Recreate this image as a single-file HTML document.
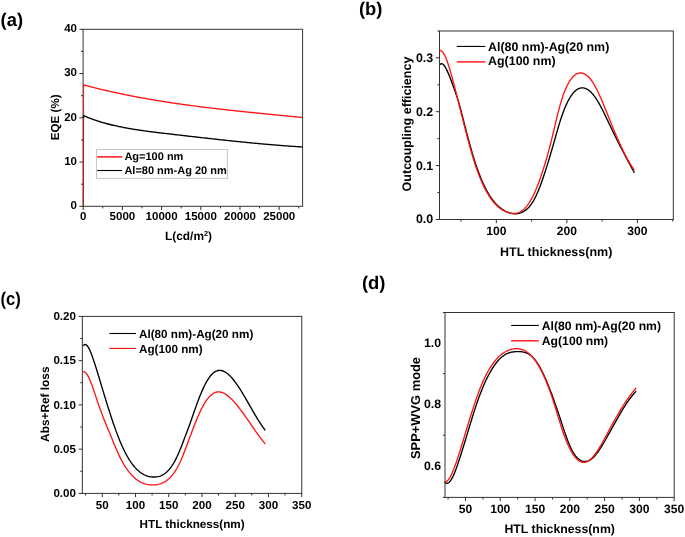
<!DOCTYPE html>
<html lang="en">
<head>
<meta charset="utf-8">
<title>Figure: EQE, outcoupling efficiency, Abs+Ref loss and SPP+WVG mode</title>
<style>
  html, body { margin: 0; padding: 0; background: #ffffff; }
  body { width: 685px; height: 537px; overflow: hidden; font-family: "Liberation Sans", sans-serif; }
  svg { display: block; will-change: transform; }
  svg text { font-family: "Liberation Sans", sans-serif; font-weight: 700; fill: #000000; }
</style>
</head>
<body>
<svg width="685" height="537" viewBox="0 0 685 537" shape-rendering="geometricPrecision" text-rendering="geometricPrecision">
<rect x="0" y="0" width="685" height="537" fill="#ffffff"/>
<g id="plots">
<line x1="82.60" y1="29.30" x2="303.10" y2="29.30" stroke="#333333" stroke-width="1"/>
<line x1="82.60" y1="206.30" x2="303.10" y2="206.30" stroke="#333333" stroke-width="1"/>
<line x1="83.10" y1="29.30" x2="83.10" y2="206.30" stroke="#333333" stroke-width="1"/>
<line x1="302.60" y1="29.30" x2="302.60" y2="206.30" stroke="#333333" stroke-width="1"/>
<path d="M83.45,206.3 L83.55,116.6" fill="none" stroke="#000000" stroke-width="1.0" opacity="0.8"/>
<path d="M83.45,206.3 L83.55,85.6" fill="none" stroke="#e81818" stroke-width="1.15" opacity="0.78"/>
<path d="M83.5,117.6 L83.6,115.9 L84.10,115.81 L85.10,116.25 L86.10,116.68 L87.10,117.10 L88.10,117.51 L89.10,117.91 L90.10,118.30 L91.10,118.69 L92.10,119.06 L93.10,119.43 L94.10,119.78 L95.10,120.13 L96.10,120.47 L97.10,120.80 L98.10,121.13 L99.10,121.45 L100.10,121.76 L101.10,122.06 L102.10,122.36 L103.10,122.64 L104.10,122.93 L105.10,123.21 L106.10,123.48 L107.10,123.74 L108.10,124.00 L109.10,124.26 L110.10,124.51 L111.10,124.75 L112.10,124.99 L113.10,125.22 L114.10,125.45 L115.10,125.68 L116.10,125.90 L117.10,126.12 L118.10,126.34 L119.10,126.55 L120.10,126.75 L121.10,126.96 L122.10,127.16 L123.10,127.35 L124.10,127.55 L125.10,127.74 L126.10,127.92 L127.10,128.11 L128.10,128.29 L129.10,128.46 L130.10,128.64 L131.10,128.81 L132.10,128.98 L133.10,129.14 L134.10,129.31 L135.10,129.47 L136.10,129.63 L137.10,129.78 L138.10,129.93 L139.10,130.09 L140.10,130.23 L141.10,130.38 L142.10,130.53 L143.10,130.67 L144.10,130.81 L145.10,130.95 L146.10,131.08 L147.10,131.22 L148.10,131.35 L149.10,131.49 L150.10,131.62 L151.10,131.74 L152.10,131.87 L153.10,132.00 L154.10,132.12 L155.10,132.25 L156.10,132.37 L157.10,132.49 L158.10,132.61 L159.10,132.73 L160.10,132.85 L161.10,132.97 L162.10,133.09 L163.10,133.21 L164.10,133.33 L165.10,133.44 L166.10,133.56 L167.10,133.67 L168.10,133.79 L169.10,133.91 L170.10,134.02 L171.10,134.14 L172.10,134.25 L173.10,134.37 L174.10,134.49 L175.10,134.60 L176.10,134.72 L177.10,134.83 L178.10,134.95 L179.10,135.06 L180.10,135.18 L181.10,135.29 L182.10,135.41 L183.10,135.53 L184.10,135.64 L185.10,135.76 L186.10,135.87 L187.10,135.99 L188.10,136.10 L189.10,136.22 L190.10,136.33 L191.10,136.45 L192.10,136.56 L193.10,136.67 L194.10,136.79 L195.10,136.90 L196.10,137.02 L197.10,137.13 L198.10,137.24 L199.10,137.36 L200.10,137.47 L201.10,137.58 L202.10,137.70 L203.10,137.81 L204.10,137.92 L205.10,138.04 L206.10,138.15 L207.10,138.26 L208.10,138.37 L209.10,138.48 L210.10,138.59 L211.10,138.70 L212.10,138.82 L213.10,138.93 L214.10,139.04 L215.10,139.15 L216.10,139.26 L217.10,139.37 L218.10,139.47 L219.10,139.58 L220.10,139.69 L221.10,139.80 L222.10,139.91 L223.10,140.02 L224.10,140.12 L225.10,140.23 L226.10,140.34 L227.10,140.44 L228.10,140.55 L229.10,140.65 L230.10,140.76 L231.10,140.86 L232.10,140.97 L233.10,141.07 L234.10,141.18 L235.10,141.28 L236.10,141.38 L237.10,141.49 L238.10,141.59 L239.10,141.69 L240.10,141.79 L241.10,141.89 L242.10,141.99 L243.10,142.09 L244.10,142.19 L245.10,142.29 L246.10,142.39 L247.10,142.49 L248.10,142.58 L249.10,142.68 L250.10,142.78 L251.10,142.87 L252.10,142.97 L253.10,143.06 L254.10,143.16 L255.10,143.25 L256.10,143.35 L257.10,143.44 L258.10,143.53 L259.10,143.62 L260.10,143.72 L261.10,143.81 L262.10,143.90 L263.10,143.99 L264.10,144.08 L265.10,144.16 L266.10,144.25 L267.10,144.34 L268.10,144.43 L269.10,144.51 L270.10,144.60 L271.10,144.68 L272.10,144.77 L273.10,144.85 L274.10,144.93 L275.10,145.01 L276.10,145.10 L277.10,145.18 L278.10,145.26 L279.10,145.34 L280.10,145.42 L281.10,145.49 L282.10,145.57 L283.10,145.65 L284.10,145.72 L285.10,145.80 L286.10,145.87 L287.10,145.95 L288.10,146.02 L289.10,146.09 L290.10,146.17 L291.10,146.24 L292.10,146.31 L293.10,146.38 L294.10,146.44 L295.10,146.51 L296.10,146.58 L297.10,146.65 L298.10,146.71 L299.10,146.78 L300.10,146.84 L301.10,146.90 L302.10,146.96 L302.40,146.98" fill="none" stroke="#000000" stroke-width="1.35" stroke-linejoin="miter"/>
<path d="M83.5,86.6 L83.6,85.1 L84.10,85.01 L85.10,85.27 L86.10,85.54 L87.10,85.80 L88.10,86.07 L89.10,86.33 L90.10,86.59 L91.10,86.84 L92.10,87.10 L93.10,87.35 L94.10,87.60 L95.10,87.85 L96.10,88.10 L97.10,88.35 L98.10,88.60 L99.10,88.84 L100.10,89.08 L101.10,89.32 L102.10,89.56 L103.10,89.80 L104.10,90.04 L105.10,90.27 L106.10,90.50 L107.10,90.73 L108.10,90.96 L109.10,91.19 L110.10,91.42 L111.10,91.64 L112.10,91.87 L113.10,92.09 L114.10,92.31 L115.10,92.53 L116.10,92.75 L117.10,92.96 L118.10,93.18 L119.10,93.39 L120.10,93.60 L121.10,93.81 L122.10,94.02 L123.10,94.23 L124.10,94.44 L125.10,94.64 L126.10,94.84 L127.10,95.05 L128.10,95.25 L129.10,95.45 L130.10,95.64 L131.10,95.84 L132.10,96.04 L133.10,96.23 L134.10,96.42 L135.10,96.61 L136.10,96.80 L137.10,96.99 L138.10,97.18 L139.10,97.37 L140.10,97.55 L141.10,97.74 L142.10,97.92 L143.10,98.10 L144.10,98.28 L145.10,98.46 L146.10,98.64 L147.10,98.81 L148.10,98.99 L149.10,99.16 L150.10,99.34 L151.10,99.51 L152.10,99.68 L153.10,99.85 L154.10,100.02 L155.10,100.18 L156.10,100.35 L157.10,100.52 L158.10,100.68 L159.10,100.84 L160.10,101.01 L161.10,101.17 L162.10,101.33 L163.10,101.48 L164.10,101.64 L165.10,101.80 L166.10,101.96 L167.10,102.11 L168.10,102.26 L169.10,102.42 L170.10,102.57 L171.10,102.72 L172.10,102.87 L173.10,103.02 L174.10,103.17 L175.10,103.31 L176.10,103.46 L177.10,103.60 L178.10,103.75 L179.10,103.89 L180.10,104.03 L181.10,104.18 L182.10,104.32 L183.10,104.46 L184.10,104.60 L185.10,104.73 L186.10,104.87 L187.10,105.01 L188.10,105.14 L189.10,105.28 L190.10,105.41 L191.10,105.55 L192.10,105.68 L193.10,105.81 L194.10,105.94 L195.10,106.07 L196.10,106.20 L197.10,106.33 L198.10,106.46 L199.10,106.58 L200.10,106.71 L201.10,106.84 L202.10,106.96 L203.10,107.09 L204.10,107.21 L205.10,107.33 L206.10,107.46 L207.10,107.58 L208.10,107.70 L209.10,107.82 L210.10,107.94 L211.10,108.06 L212.10,108.18 L213.10,108.29 L214.10,108.41 L215.10,108.53 L216.10,108.65 L217.10,108.76 L218.10,108.88 L219.10,108.99 L220.10,109.10 L221.10,109.22 L222.10,109.33 L223.10,109.44 L224.10,109.56 L225.10,109.67 L226.10,109.78 L227.10,109.89 L228.10,110.00 L229.10,110.11 L230.10,110.22 L231.10,110.33 L232.10,110.44 L233.10,110.54 L234.10,110.65 L235.10,110.76 L236.10,110.86 L237.10,110.97 L238.10,111.08 L239.10,111.18 L240.10,111.29 L241.10,111.39 L242.10,111.50 L243.10,111.60 L244.10,111.71 L245.10,111.81 L246.10,111.91 L247.10,112.02 L248.10,112.12 L249.10,112.22 L250.10,112.32 L251.10,112.42 L252.10,112.53 L253.10,112.63 L254.10,112.73 L255.10,112.83 L256.10,112.93 L257.10,113.03 L258.10,113.13 L259.10,113.23 L260.10,113.33 L261.10,113.43 L262.10,113.53 L263.10,113.63 L264.10,113.73 L265.10,113.83 L266.10,113.93 L267.10,114.02 L268.10,114.12 L269.10,114.22 L270.10,114.32 L271.10,114.42 L272.10,114.52 L273.10,114.62 L274.10,114.71 L275.10,114.81 L276.10,114.91 L277.10,115.01 L278.10,115.11 L279.10,115.20 L280.10,115.30 L281.10,115.40 L282.10,115.50 L283.10,115.60 L284.10,115.69 L285.10,115.79 L286.10,115.89 L287.10,115.99 L288.10,116.09 L289.10,116.19 L290.10,116.28 L291.10,116.38 L292.10,116.48 L293.10,116.58 L294.10,116.68 L295.10,116.78 L296.10,116.88 L297.10,116.98 L298.10,117.07 L299.10,117.17 L300.10,117.27 L301.10,117.37 L302.10,117.47 L302.40,117.50" fill="none" stroke="#ff1414" stroke-width="1.35" stroke-linejoin="miter"/>
<line x1="83.20" y1="206.30" x2="83.20" y2="210.00" stroke="#333333" stroke-width="1"/>
<line x1="122.40" y1="206.30" x2="122.40" y2="210.00" stroke="#333333" stroke-width="1"/>
<line x1="161.60" y1="206.30" x2="161.60" y2="210.00" stroke="#333333" stroke-width="1"/>
<line x1="200.80" y1="206.30" x2="200.80" y2="210.00" stroke="#333333" stroke-width="1"/>
<line x1="240.00" y1="206.30" x2="240.00" y2="210.00" stroke="#333333" stroke-width="1"/>
<line x1="279.20" y1="206.30" x2="279.20" y2="210.00" stroke="#333333" stroke-width="1"/>
<line x1="102.80" y1="206.30" x2="102.80" y2="208.40" stroke="#333333" stroke-width="1"/>
<line x1="142.00" y1="206.30" x2="142.00" y2="208.40" stroke="#333333" stroke-width="1"/>
<line x1="181.20" y1="206.30" x2="181.20" y2="208.40" stroke="#333333" stroke-width="1"/>
<line x1="220.40" y1="206.30" x2="220.40" y2="208.40" stroke="#333333" stroke-width="1"/>
<line x1="259.60" y1="206.30" x2="259.60" y2="208.40" stroke="#333333" stroke-width="1"/>
<line x1="298.80" y1="206.30" x2="298.80" y2="208.40" stroke="#333333" stroke-width="1"/>
<line x1="79.40" y1="206.30" x2="83.10" y2="206.30" stroke="#333333" stroke-width="1"/>
<line x1="79.40" y1="162.05" x2="83.10" y2="162.05" stroke="#333333" stroke-width="1"/>
<line x1="79.40" y1="117.80" x2="83.10" y2="117.80" stroke="#333333" stroke-width="1"/>
<line x1="79.40" y1="73.55" x2="83.10" y2="73.55" stroke="#333333" stroke-width="1"/>
<line x1="79.40" y1="29.30" x2="83.10" y2="29.30" stroke="#333333" stroke-width="1"/>
<line x1="81.00" y1="184.18" x2="83.10" y2="184.18" stroke="#333333" stroke-width="1"/>
<line x1="81.00" y1="139.93" x2="83.10" y2="139.93" stroke="#333333" stroke-width="1"/>
<line x1="81.00" y1="95.68" x2="83.10" y2="95.68" stroke="#333333" stroke-width="1"/>
<line x1="81.00" y1="51.43" x2="83.10" y2="51.43" stroke="#333333" stroke-width="1"/>
<rect x="96.5" y="149.5" width="130.9" height="28.9" fill="#ffffff" stroke="#c6c6c6" stroke-width="1"/>
<line x1="97.20" y1="156.90" x2="122.20" y2="156.90" stroke="#ff1414" stroke-width="1.5"/>
<line x1="97.20" y1="170.50" x2="122.20" y2="170.50" stroke="#000000" stroke-width="1.1"/>
<path d="M439.30,65.19 L440.30,64.08 L441.30,63.65 L442.30,63.83 L443.30,64.54 L444.30,65.70 L445.30,67.23 L446.30,69.06 L447.30,71.12 L448.30,73.38 L449.30,75.79 L450.30,78.33 L451.30,80.97 L452.30,83.67 L453.30,86.40 L454.30,89.14 L455.30,91.90 L456.30,94.75 L457.30,97.74 L458.30,100.92 L459.30,104.35 L460.30,108.00 L461.30,111.82 L462.30,115.73 L463.30,119.69 L464.30,123.62 L465.30,127.52 L466.30,131.38 L467.30,135.20 L468.30,138.95 L469.30,142.64 L470.30,146.25 L471.30,149.78 L472.30,153.22 L473.30,156.57 L474.30,159.80 L475.30,162.93 L476.30,165.93 L477.30,168.81 L478.30,171.58 L479.30,174.23 L480.30,176.77 L481.30,179.21 L482.30,181.53 L483.30,183.75 L484.30,185.87 L485.30,187.89 L486.30,189.81 L487.30,191.64 L488.30,193.37 L489.30,195.02 L490.30,196.57 L491.30,198.04 L492.30,199.43 L493.30,200.74 L494.30,201.97 L495.30,203.13 L496.30,204.21 L497.30,205.22 L498.30,206.16 L499.30,207.04 L500.30,207.85 L501.30,208.60 L502.30,209.30 L503.30,209.93 L504.30,210.52 L505.30,211.05 L506.30,211.53 L507.30,211.97 L508.30,212.36 L509.30,212.71 L510.30,213.01 L511.30,213.26 L512.30,213.47 L513.30,213.62 L514.30,213.71 L515.30,213.75 L516.30,213.72 L517.30,213.63 L518.30,213.48 L519.30,213.26 L520.30,212.97 L521.30,212.61 L522.30,212.17 L523.30,211.65 L524.30,211.05 L525.30,210.37 L526.30,209.60 L527.30,208.74 L528.30,207.79 L529.30,206.71 L530.30,205.52 L531.30,204.19 L532.30,202.72 L533.30,201.10 L534.30,199.31 L535.30,197.38 L536.30,195.30 L537.30,193.07 L538.30,190.72 L539.30,188.24 L540.30,185.65 L541.30,182.95 L542.30,180.15 L543.30,177.25 L544.30,174.27 L545.30,171.21 L546.30,168.09 L547.30,164.90 L548.30,161.65 L549.30,158.35 L550.30,155.01 L551.30,151.63 L552.30,148.20 L553.30,144.73 L554.30,141.23 L555.30,137.70 L556.30,134.16 L557.30,130.65 L558.30,127.21 L559.30,123.86 L560.30,120.63 L561.30,117.56 L562.30,114.66 L563.30,111.92 L564.30,109.33 L565.30,106.91 L566.30,104.63 L567.30,102.52 L568.30,100.55 L569.30,98.73 L570.30,97.07 L571.30,95.54 L572.30,94.16 L573.30,92.92 L574.30,91.82 L575.30,90.86 L576.30,90.03 L577.30,89.34 L578.30,88.78 L579.30,88.35 L580.30,88.04 L581.30,87.86 L582.30,87.80 L583.30,87.87 L584.30,88.05 L585.30,88.35 L586.30,88.77 L587.30,89.30 L588.30,89.94 L589.30,90.70 L590.30,91.56 L591.30,92.53 L592.30,93.60 L593.30,94.78 L594.30,96.06 L595.30,97.44 L596.30,98.92 L597.30,100.49 L598.30,102.15 L599.30,103.89 L600.30,105.71 L601.30,107.58 L602.30,109.52 L603.30,111.50 L604.30,113.53 L605.30,115.59 L606.30,117.68 L607.30,119.78 L608.30,121.89 L609.30,124.01 L610.30,126.12 L611.30,128.21 L612.30,130.29 L613.30,132.36 L614.30,134.40 L615.30,136.43 L616.30,138.45 L617.30,140.45 L618.30,142.43 L619.30,144.40 L620.30,146.36 L621.30,148.31 L622.30,150.24 L623.30,152.16 L624.30,154.06 L625.30,155.96 L626.30,157.85 L627.30,159.72 L628.30,161.59 L629.30,163.44 L630.30,165.29 L631.30,167.13 L632.30,168.96 L633.30,170.78 L634.30,172.60 L634.40,172.78" fill="none" stroke="#000000" stroke-width="1.35" stroke-linejoin="round" stroke-linecap="butt"/>
<path d="M439.30,50.52 L440.30,50.41 L441.30,50.78 L442.30,51.63 L443.30,52.89 L444.30,54.56 L445.30,56.59 L446.30,58.95 L447.30,61.61 L448.30,64.54 L449.30,67.69 L450.30,71.05 L451.30,74.57 L452.30,78.22 L453.30,81.98 L454.30,85.81 L455.30,89.69 L456.30,93.61 L457.30,97.56 L458.30,101.55 L459.30,105.54 L460.30,109.55 L461.30,113.56 L462.30,117.56 L463.30,121.54 L464.30,125.49 L465.30,129.41 L466.30,133.29 L467.30,137.11 L468.30,140.87 L469.30,144.57 L470.30,148.18 L471.30,151.71 L472.30,155.14 L473.30,158.47 L474.30,161.68 L475.30,164.77 L476.30,167.74 L477.30,170.59 L478.30,173.32 L479.30,175.93 L480.30,178.43 L481.30,180.82 L482.30,183.11 L483.30,185.28 L484.30,187.36 L485.30,189.33 L486.30,191.20 L487.30,192.98 L488.30,194.67 L489.30,196.27 L490.30,197.77 L491.30,199.19 L492.30,200.53 L493.30,201.79 L494.30,202.97 L495.30,204.07 L496.30,205.10 L497.30,206.05 L498.30,206.94 L499.30,207.77 L500.30,208.53 L501.30,209.22 L502.30,209.86 L503.30,210.45 L504.30,210.98 L505.30,211.45 L506.30,211.88 L507.30,212.27 L508.30,212.60 L509.30,212.89 L510.30,213.13 L511.30,213.31 L512.30,213.43 L513.30,213.48 L514.30,213.47 L515.30,213.39 L516.30,213.23 L517.30,212.99 L518.30,212.66 L519.30,212.26 L520.30,211.76 L521.30,211.16 L522.30,210.47 L523.30,209.68 L524.30,208.78 L525.30,207.77 L526.30,206.64 L527.30,205.40 L528.30,204.04 L529.30,202.56 L530.30,200.94 L531.30,199.20 L532.30,197.33 L533.30,195.34 L534.30,193.23 L535.30,191.01 L536.30,188.66 L537.30,186.21 L538.30,183.64 L539.30,180.97 L540.30,178.19 L541.30,175.30 L542.30,172.31 L543.30,169.23 L544.30,166.05 L545.30,162.77 L546.30,159.40 L547.30,155.91 L548.30,152.32 L549.30,148.61 L550.30,144.77 L551.30,140.80 L552.30,136.70 L553.30,132.53 L554.30,128.32 L555.30,124.10 L556.30,119.93 L557.30,115.85 L558.30,111.88 L559.30,108.06 L560.30,104.42 L561.30,100.98 L562.30,97.78 L563.30,94.83 L564.30,92.12 L565.30,89.65 L566.30,87.39 L567.30,85.33 L568.30,83.45 L569.30,81.74 L570.30,80.19 L571.30,78.80 L572.30,77.56 L573.30,76.48 L574.30,75.55 L575.30,74.77 L576.30,74.13 L577.30,73.63 L578.30,73.28 L579.30,73.05 L580.30,72.96 L581.30,73.00 L582.30,73.16 L583.30,73.45 L584.30,73.87 L585.30,74.41 L586.30,75.07 L587.30,75.86 L588.30,76.78 L589.30,77.81 L590.30,78.97 L591.30,80.26 L592.30,81.66 L593.30,83.18 L594.30,84.83 L595.30,86.60 L596.30,88.47 L597.30,90.45 L598.30,92.52 L599.30,94.68 L600.30,96.91 L601.30,99.21 L602.30,101.57 L603.30,103.97 L604.30,106.41 L605.30,108.88 L606.30,111.36 L607.30,113.86 L608.30,116.36 L609.30,118.85 L610.30,121.33 L611.30,123.79 L612.30,126.23 L613.30,128.65 L614.30,131.05 L615.30,133.41 L616.30,135.75 L617.30,138.06 L618.30,140.33 L619.30,142.57 L620.30,144.77 L621.30,146.92 L622.30,149.03 L623.30,151.10 L624.30,153.12 L625.30,155.08 L626.30,157.00 L627.30,158.85 L628.30,160.65 L629.30,162.39 L630.30,164.06 L631.30,165.67 L632.30,167.21 L633.30,168.68 L634.30,170.07 L634.40,170.21" fill="none" stroke="#ff1414" stroke-width="1.35" stroke-linejoin="round" stroke-linecap="butt"/>
<line x1="439.00" y1="31.00" x2="673.80" y2="31.00" stroke="#333333" stroke-width="1"/>
<line x1="439.00" y1="219.50" x2="673.80" y2="219.50" stroke="#333333" stroke-width="1"/>
<line x1="439.50" y1="31.00" x2="439.50" y2="219.50" stroke="#333333" stroke-width="1"/>
<line x1="673.30" y1="31.00" x2="673.30" y2="219.50" stroke="#333333" stroke-width="1"/>
<line x1="496.30" y1="219.50" x2="496.30" y2="223.20" stroke="#333333" stroke-width="1"/>
<line x1="566.90" y1="219.50" x2="566.90" y2="223.20" stroke="#333333" stroke-width="1"/>
<line x1="637.40" y1="219.50" x2="637.40" y2="223.20" stroke="#333333" stroke-width="1"/>
<line x1="461.00" y1="219.50" x2="461.00" y2="221.60" stroke="#333333" stroke-width="1"/>
<line x1="531.60" y1="219.50" x2="531.60" y2="221.60" stroke="#333333" stroke-width="1"/>
<line x1="602.10" y1="219.50" x2="602.10" y2="221.60" stroke="#333333" stroke-width="1"/>
<line x1="672.70" y1="219.50" x2="672.70" y2="221.60" stroke="#333333" stroke-width="1"/>
<line x1="435.80" y1="219.50" x2="439.50" y2="219.50" stroke="#333333" stroke-width="1"/>
<line x1="435.80" y1="165.60" x2="439.50" y2="165.60" stroke="#333333" stroke-width="1"/>
<line x1="435.80" y1="111.70" x2="439.50" y2="111.70" stroke="#333333" stroke-width="1"/>
<line x1="435.80" y1="57.80" x2="439.50" y2="57.80" stroke="#333333" stroke-width="1"/>
<line x1="437.40" y1="192.50" x2="439.50" y2="192.50" stroke="#333333" stroke-width="1"/>
<line x1="437.40" y1="138.60" x2="439.50" y2="138.60" stroke="#333333" stroke-width="1"/>
<line x1="437.40" y1="84.80" x2="439.50" y2="84.80" stroke="#333333" stroke-width="1"/>
<line x1="437.40" y1="31.00" x2="439.50" y2="31.00" stroke="#333333" stroke-width="1"/>
<line x1="456.70" y1="46.45" x2="485.30" y2="46.45" stroke="#000000" stroke-width="1.1"/>
<line x1="456.70" y1="61.90" x2="485.30" y2="61.90" stroke="#ff1414" stroke-width="1.45"/>
<path d="M83.20,345.63 L84.20,344.71 L85.20,344.46 L86.20,344.82 L87.20,345.74 L88.20,347.13 L89.20,348.95 L90.20,351.12 L91.20,353.58 L92.20,356.27 L93.20,359.13 L94.20,362.09 L95.20,365.15 L96.20,368.29 L97.20,371.50 L98.20,374.76 L99.20,378.07 L100.20,381.39 L101.20,384.73 L102.20,388.07 L103.20,391.40 L104.20,394.71 L105.20,397.99 L106.20,401.24 L107.20,404.47 L108.20,407.66 L109.20,410.80 L110.20,413.91 L111.20,416.96 L112.20,419.97 L113.20,422.92 L114.20,425.80 L115.20,428.63 L116.20,431.39 L117.20,434.07 L118.20,436.68 L119.20,439.21 L120.20,441.66 L121.20,444.02 L122.20,446.28 L123.20,448.46 L124.20,450.53 L125.20,452.52 L126.20,454.41 L127.20,456.21 L128.20,457.93 L129.20,459.56 L130.20,461.10 L131.20,462.56 L132.20,463.94 L133.20,465.24 L134.20,466.46 L135.20,467.60 L136.20,468.67 L137.20,469.67 L138.20,470.60 L139.20,471.45 L140.20,472.24 L141.20,472.96 L142.20,473.62 L143.20,474.21 L144.20,474.74 L145.20,475.21 L146.20,475.63 L147.20,475.99 L148.20,476.29 L149.20,476.54 L150.20,476.73 L151.20,476.88 L152.20,476.98 L153.20,477.03 L154.20,477.04 L155.20,477.01 L156.20,476.92 L157.20,476.79 L158.20,476.60 L159.20,476.35 L160.20,476.03 L161.20,475.65 L162.20,475.19 L163.20,474.65 L164.20,474.03 L165.20,473.31 L166.20,472.51 L167.20,471.60 L168.20,470.60 L169.20,469.49 L170.20,468.26 L171.20,466.92 L172.20,465.45 L173.20,463.87 L174.20,462.16 L175.20,460.33 L176.20,458.38 L177.20,456.32 L178.20,454.13 L179.20,451.83 L180.20,449.42 L181.20,446.90 L182.20,444.30 L183.20,441.67 L184.20,439.02 L185.20,436.38 L186.20,433.77 L187.20,431.15 L188.20,428.50 L189.20,425.80 L190.20,423.03 L191.20,420.20 L192.20,417.33 L193.20,414.44 L194.20,411.55 L195.20,408.68 L196.20,405.86 L197.20,403.11 L198.20,400.44 L199.20,397.84 L200.20,395.34 L201.20,392.92 L202.20,390.61 L203.20,388.39 L204.20,386.29 L205.20,384.30 L206.20,382.42 L207.20,380.67 L208.20,379.05 L209.20,377.56 L210.20,376.21 L211.20,375.00 L212.20,373.94 L213.20,373.03 L214.20,372.26 L215.20,371.63 L216.20,371.13 L217.20,370.77 L218.20,370.53 L219.20,370.41 L220.20,370.41 L221.20,370.53 L222.20,370.76 L223.20,371.09 L224.20,371.53 L225.20,372.07 L226.20,372.70 L227.20,373.43 L228.20,374.24 L229.20,375.14 L230.20,376.12 L231.20,377.17 L232.20,378.29 L233.20,379.48 L234.20,380.74 L235.20,382.06 L236.20,383.43 L237.20,384.86 L238.20,386.33 L239.20,387.85 L240.20,389.41 L241.20,391.01 L242.20,392.64 L243.20,394.29 L244.20,395.98 L245.20,397.68 L246.20,399.40 L247.20,401.14 L248.20,402.88 L249.20,404.64 L250.20,406.39 L251.20,408.14 L252.20,409.88 L253.20,411.62 L254.20,413.34 L255.20,415.04 L256.20,416.72 L257.20,418.37 L258.20,420.00 L259.20,421.59 L260.20,423.14 L261.20,424.66 L262.20,426.12 L263.20,427.54 L264.20,428.91 L265.20,430.22 L265.30,430.34" fill="none" stroke="#000000" stroke-width="1.35" stroke-linejoin="round" stroke-linecap="butt"/>
<path d="M83.20,371.73 L84.20,371.82 L85.20,372.37 L86.20,373.35 L87.20,374.72 L88.20,376.42 L89.20,378.43 L90.20,380.71 L91.20,383.20 L92.20,385.88 L93.20,388.70 L94.20,391.63 L95.20,394.62 L96.20,397.63 L97.20,400.63 L98.20,403.57 L99.20,406.43 L100.20,409.23 L101.20,411.96 L102.20,414.63 L103.20,417.25 L104.20,419.81 L105.20,422.33 L106.20,424.81 L107.20,427.25 L108.20,429.66 L109.20,432.06 L110.20,434.46 L111.20,436.87 L112.20,439.31 L113.20,441.75 L114.20,444.19 L115.20,446.60 L116.20,448.97 L117.20,451.27 L118.20,453.49 L119.20,455.61 L120.20,457.64 L121.20,459.59 L122.20,461.44 L123.20,463.21 L124.20,464.90 L125.20,466.50 L126.20,468.03 L127.20,469.47 L128.20,470.84 L129.20,472.13 L130.20,473.35 L131.20,474.50 L132.20,475.57 L133.20,476.58 L134.20,477.52 L135.20,478.39 L136.20,479.21 L137.20,479.95 L138.20,480.64 L139.20,481.28 L140.20,481.85 L141.20,482.37 L142.20,482.84 L143.20,483.25 L144.20,483.62 L145.20,483.93 L146.20,484.20 L147.20,484.43 L148.20,484.61 L149.20,484.75 L150.20,484.86 L151.20,484.92 L152.20,484.95 L153.20,484.94 L154.20,484.90 L155.20,484.83 L156.20,484.73 L157.20,484.58 L158.20,484.39 L159.20,484.16 L160.20,483.87 L161.20,483.53 L162.20,483.13 L163.20,482.68 L164.20,482.15 L165.20,481.56 L166.20,480.90 L167.20,480.16 L168.20,479.35 L169.20,478.45 L170.20,477.46 L171.20,476.39 L172.20,475.22 L173.20,473.95 L174.20,472.58 L175.20,471.10 L176.20,469.51 L177.20,467.80 L178.20,465.97 L179.20,464.02 L180.20,461.93 L181.20,459.70 L182.20,457.35 L183.20,454.89 L184.20,452.35 L185.20,449.75 L186.20,447.10 L187.20,444.43 L188.20,441.74 L189.20,439.04 L190.20,436.35 L191.20,433.66 L192.20,430.99 L193.20,428.36 L194.20,425.76 L195.20,423.20 L196.20,420.71 L197.20,418.28 L198.20,415.92 L199.20,413.65 L200.20,411.48 L201.20,409.40 L202.20,407.44 L203.20,405.59 L204.20,403.86 L205.20,402.24 L206.20,400.73 L207.20,399.35 L208.20,398.08 L209.20,396.92 L210.20,395.89 L211.20,394.97 L212.20,394.18 L213.20,393.50 L214.20,392.94 L215.20,392.50 L216.20,392.19 L217.20,391.98 L218.20,391.90 L219.20,391.91 L220.20,392.04 L221.20,392.26 L222.20,392.57 L223.20,392.97 L224.20,393.46 L225.20,394.02 L226.20,394.66 L227.20,395.37 L228.20,396.15 L229.20,396.99 L230.20,397.89 L231.20,398.83 L232.20,399.83 L233.20,400.88 L234.20,401.97 L235.20,403.10 L236.20,404.27 L237.20,405.48 L238.20,406.72 L239.20,408.00 L240.20,409.30 L241.20,410.63 L242.20,411.99 L243.20,413.36 L244.20,414.76 L245.20,416.17 L246.20,417.60 L247.20,419.03 L248.20,420.48 L249.20,421.93 L250.20,423.39 L251.20,424.84 L252.20,426.30 L253.20,427.75 L254.20,429.19 L255.20,430.62 L256.20,432.04 L257.20,433.45 L258.20,434.84 L259.20,436.21 L260.20,437.56 L261.20,438.88 L262.20,440.17 L263.20,441.44 L264.20,442.67 L265.20,443.87 L265.30,443.98" fill="none" stroke="#ff1414" stroke-width="1.35" stroke-linejoin="round" stroke-linecap="butt"/>
<line x1="81.85" y1="316.40" x2="302.25" y2="316.40" stroke="#333333" stroke-width="1"/>
<line x1="81.85" y1="493.40" x2="302.25" y2="493.40" stroke="#333333" stroke-width="1"/>
<line x1="82.35" y1="316.40" x2="82.35" y2="493.40" stroke="#333333" stroke-width="1"/>
<line x1="301.75" y1="316.40" x2="301.75" y2="493.40" stroke="#333333" stroke-width="1"/>
<line x1="102.30" y1="493.40" x2="102.30" y2="497.10" stroke="#333333" stroke-width="1"/>
<line x1="135.53" y1="493.40" x2="135.53" y2="497.10" stroke="#333333" stroke-width="1"/>
<line x1="168.76" y1="493.40" x2="168.76" y2="497.10" stroke="#333333" stroke-width="1"/>
<line x1="201.99" y1="493.40" x2="201.99" y2="497.10" stroke="#333333" stroke-width="1"/>
<line x1="235.22" y1="493.40" x2="235.22" y2="497.10" stroke="#333333" stroke-width="1"/>
<line x1="268.45" y1="493.40" x2="268.45" y2="497.10" stroke="#333333" stroke-width="1"/>
<line x1="301.68" y1="493.40" x2="301.68" y2="497.10" stroke="#333333" stroke-width="1"/>
<line x1="85.60" y1="493.40" x2="85.60" y2="495.50" stroke="#333333" stroke-width="1"/>
<line x1="118.83" y1="493.40" x2="118.83" y2="495.50" stroke="#333333" stroke-width="1"/>
<line x1="152.06" y1="493.40" x2="152.06" y2="495.50" stroke="#333333" stroke-width="1"/>
<line x1="185.29" y1="493.40" x2="185.29" y2="495.50" stroke="#333333" stroke-width="1"/>
<line x1="218.52" y1="493.40" x2="218.52" y2="495.50" stroke="#333333" stroke-width="1"/>
<line x1="251.75" y1="493.40" x2="251.75" y2="495.50" stroke="#333333" stroke-width="1"/>
<line x1="284.98" y1="493.40" x2="284.98" y2="495.50" stroke="#333333" stroke-width="1"/>
<line x1="78.65" y1="493.40" x2="82.35" y2="493.40" stroke="#333333" stroke-width="1"/>
<line x1="78.65" y1="449.15" x2="82.35" y2="449.15" stroke="#333333" stroke-width="1"/>
<line x1="78.65" y1="404.90" x2="82.35" y2="404.90" stroke="#333333" stroke-width="1"/>
<line x1="78.65" y1="360.65" x2="82.35" y2="360.65" stroke="#333333" stroke-width="1"/>
<line x1="78.65" y1="316.40" x2="82.35" y2="316.40" stroke="#333333" stroke-width="1"/>
<line x1="80.25" y1="471.27" x2="82.35" y2="471.27" stroke="#333333" stroke-width="1"/>
<line x1="80.25" y1="427.02" x2="82.35" y2="427.02" stroke="#333333" stroke-width="1"/>
<line x1="80.25" y1="382.77" x2="82.35" y2="382.77" stroke="#333333" stroke-width="1"/>
<line x1="80.25" y1="338.52" x2="82.35" y2="338.52" stroke="#333333" stroke-width="1"/>
<line x1="109.40" y1="333.50" x2="135.90" y2="333.50" stroke="#000000" stroke-width="1.1"/>
<line x1="109.40" y1="348.40" x2="135.90" y2="348.40" stroke="#ff1414" stroke-width="1.15"/>
<path d="M444.50,482.14 L445.50,482.96 L446.50,483.32 L447.50,483.25 L448.50,482.78 L449.50,481.93 L450.50,480.73 L451.50,479.22 L452.50,477.42 L453.50,475.36 L454.50,473.06 L455.50,470.55 L456.50,467.87 L457.50,465.04 L458.50,462.09 L459.50,459.05 L460.50,455.94 L461.50,452.77 L462.50,449.56 L463.50,446.31 L464.50,443.03 L465.50,439.73 L466.50,436.41 L467.50,433.09 L468.50,429.78 L469.50,426.47 L470.50,423.19 L471.50,419.93 L472.50,416.71 L473.50,413.54 L474.50,410.41 L475.50,407.35 L476.50,404.36 L477.50,401.45 L478.50,398.62 L479.50,395.88 L480.50,393.24 L481.50,390.68 L482.50,388.21 L483.50,385.83 L484.50,383.54 L485.50,381.33 L486.50,379.21 L487.50,377.17 L488.50,375.22 L489.50,373.34 L490.50,371.55 L491.50,369.84 L492.50,368.22 L493.50,366.67 L494.50,365.21 L495.50,363.83 L496.50,362.53 L497.50,361.31 L498.50,360.17 L499.50,359.12 L500.50,358.14 L501.50,357.25 L502.50,356.44 L503.50,355.70 L504.50,355.04 L505.50,354.45 L506.50,353.93 L507.50,353.47 L508.50,353.07 L509.50,352.73 L510.50,352.44 L511.50,352.20 L512.50,352.00 L513.50,351.85 L514.50,351.74 L515.50,351.66 L516.50,351.62 L517.50,351.60 L518.50,351.61 L519.50,351.64 L520.50,351.70 L521.50,351.79 L522.50,351.93 L523.50,352.11 L524.50,352.35 L525.50,352.66 L526.50,353.03 L527.50,353.47 L528.50,354.00 L529.50,354.61 L530.50,355.32 L531.50,356.13 L532.50,357.05 L533.50,358.08 L534.50,359.23 L535.50,360.49 L536.50,361.87 L537.50,363.35 L538.50,364.94 L539.50,366.63 L540.50,368.42 L541.50,370.31 L542.50,372.28 L543.50,374.35 L544.50,376.50 L545.50,378.72 L546.50,381.03 L547.50,383.41 L548.50,385.86 L549.50,388.38 L550.50,390.97 L551.50,393.61 L552.50,396.31 L553.50,399.06 L554.50,401.87 L555.50,404.72 L556.50,407.61 L557.50,410.54 L558.50,413.51 L559.50,416.52 L560.50,419.55 L561.50,422.59 L562.50,425.63 L563.50,428.65 L564.50,431.61 L565.50,434.51 L566.50,437.32 L567.50,440.03 L568.50,442.60 L569.50,445.03 L570.50,447.29 L571.50,449.36 L572.50,451.24 L573.50,452.94 L574.50,454.47 L575.50,455.82 L576.50,457.02 L577.50,458.06 L578.50,458.95 L579.50,459.69 L580.50,460.30 L581.50,460.78 L582.50,461.14 L583.50,461.37 L584.50,461.49 L585.50,461.49 L586.50,461.37 L587.50,461.14 L588.50,460.78 L589.50,460.32 L590.50,459.73 L591.50,459.03 L592.50,458.21 L593.50,457.28 L594.50,456.24 L595.50,455.10 L596.50,453.87 L597.50,452.55 L598.50,451.15 L599.50,449.68 L600.50,448.15 L601.50,446.56 L602.50,444.92 L603.50,443.24 L604.50,441.52 L605.50,439.78 L606.50,438.01 L607.50,436.23 L608.50,434.44 L609.50,432.64 L610.50,430.84 L611.50,429.03 L612.50,427.23 L613.50,425.43 L614.50,423.63 L615.50,421.84 L616.50,420.06 L617.50,418.30 L618.50,416.55 L619.50,414.82 L620.50,413.11 L621.50,411.43 L622.50,409.77 L623.50,408.15 L624.50,406.55 L625.50,404.99 L626.50,403.47 L627.50,401.99 L628.50,400.55 L629.50,399.16 L630.50,397.81 L631.50,396.52 L632.50,395.28 L633.50,394.10 L634.50,392.97 L635.50,391.91 L636.20,391.20" fill="none" stroke="#000000" stroke-width="1.35" stroke-linejoin="round" stroke-linecap="butt"/>
<path d="M444.50,482.15 L445.50,481.97 L446.50,481.45 L447.50,480.61 L448.50,479.46 L449.50,478.02 L450.50,476.32 L451.50,474.38 L452.50,472.21 L453.50,469.84 L454.50,467.28 L455.50,464.56 L456.50,461.71 L457.50,458.73 L458.50,455.65 L459.50,452.49 L460.50,449.27 L461.50,446.01 L462.50,442.74 L463.50,439.44 L464.50,436.14 L465.50,432.84 L466.50,429.55 L467.50,426.27 L468.50,423.00 L469.50,419.76 L470.50,416.55 L471.50,413.37 L472.50,410.24 L473.50,407.16 L474.50,404.13 L475.50,401.16 L476.50,398.26 L477.50,395.44 L478.50,392.69 L479.50,390.03 L480.50,387.46 L481.50,385.00 L482.50,382.63 L483.50,380.37 L484.50,378.20 L485.50,376.13 L486.50,374.15 L487.50,372.27 L488.50,370.47 L489.50,368.77 L490.50,367.15 L491.50,365.61 L492.50,364.15 L493.50,362.78 L494.50,361.48 L495.50,360.26 L496.50,359.11 L497.50,358.03 L498.50,357.02 L499.50,356.08 L500.50,355.21 L501.50,354.39 L502.50,353.64 L503.50,352.95 L504.50,352.31 L505.50,351.73 L506.50,351.20 L507.50,350.72 L508.50,350.29 L509.50,349.91 L510.50,349.57 L511.50,349.28 L512.50,349.04 L513.50,348.85 L514.50,348.71 L515.50,348.62 L516.50,348.60 L517.50,348.63 L518.50,348.71 L519.50,348.86 L520.50,349.08 L521.50,349.36 L522.50,349.70 L523.50,350.11 L524.50,350.59 L525.50,351.14 L526.50,351.77 L527.50,352.47 L528.50,353.25 L529.50,354.10 L530.50,355.04 L531.50,356.05 L532.50,357.15 L533.50,358.34 L534.50,359.61 L535.50,360.97 L536.50,362.42 L537.50,363.96 L538.50,365.59 L539.50,367.32 L540.50,369.15 L541.50,371.07 L542.50,373.09 L543.50,375.20 L544.50,377.41 L545.50,379.72 L546.50,382.12 L547.50,384.63 L548.50,387.22 L549.50,389.92 L550.50,392.71 L551.50,395.60 L552.50,398.59 L553.50,401.68 L554.50,404.84 L555.50,408.07 L556.50,411.34 L557.50,414.62 L558.50,417.90 L559.50,421.15 L560.50,424.35 L561.50,427.48 L562.50,430.52 L563.50,433.44 L564.50,436.23 L565.50,438.87 L566.50,441.38 L567.50,443.75 L568.50,445.98 L569.50,448.07 L570.50,450.02 L571.50,451.82 L572.50,453.49 L573.50,455.01 L574.50,456.40 L575.50,457.64 L576.50,458.74 L577.50,459.70 L578.50,460.51 L579.50,461.19 L580.50,461.72 L581.50,462.11 L582.50,462.35 L583.50,462.45 L584.50,462.41 L585.50,462.22 L586.50,461.90 L587.50,461.44 L588.50,460.85 L589.50,460.14 L590.50,459.31 L591.50,458.37 L592.50,457.32 L593.50,456.18 L594.50,454.95 L595.50,453.63 L596.50,452.23 L597.50,450.76 L598.50,449.22 L599.50,447.61 L600.50,445.96 L601.50,444.25 L602.50,442.50 L603.50,440.71 L604.50,438.89 L605.50,437.04 L606.50,435.18 L607.50,433.30 L608.50,431.42 L609.50,429.54 L610.50,427.66 L611.50,425.79 L612.50,423.94 L613.50,422.11 L614.50,420.30 L615.50,418.52 L616.50,416.76 L617.50,415.02 L618.50,413.31 L619.50,411.62 L620.50,409.96 L621.50,408.33 L622.50,406.72 L623.50,405.15 L624.50,403.60 L625.50,402.09 L626.50,400.60 L627.50,399.15 L628.50,397.74 L629.50,396.35 L630.50,395.00 L631.50,393.69 L632.50,392.41 L633.50,391.17 L634.50,389.97 L635.50,388.81 L636.20,388.01" fill="none" stroke="#ff1414" stroke-width="1.35" stroke-linejoin="round" stroke-linecap="butt"/>
<line x1="444.50" y1="312.50" x2="674.70" y2="312.50" stroke="#333333" stroke-width="1"/>
<line x1="444.50" y1="497.40" x2="674.70" y2="497.40" stroke="#333333" stroke-width="1"/>
<line x1="445.00" y1="312.50" x2="445.00" y2="497.40" stroke="#333333" stroke-width="1"/>
<line x1="674.20" y1="312.50" x2="674.20" y2="497.40" stroke="#333333" stroke-width="1"/>
<line x1="465.50" y1="497.40" x2="465.50" y2="501.10" stroke="#333333" stroke-width="1"/>
<line x1="500.28" y1="497.40" x2="500.28" y2="501.10" stroke="#333333" stroke-width="1"/>
<line x1="535.06" y1="497.40" x2="535.06" y2="501.10" stroke="#333333" stroke-width="1"/>
<line x1="569.84" y1="497.40" x2="569.84" y2="501.10" stroke="#333333" stroke-width="1"/>
<line x1="604.62" y1="497.40" x2="604.62" y2="501.10" stroke="#333333" stroke-width="1"/>
<line x1="639.40" y1="497.40" x2="639.40" y2="501.10" stroke="#333333" stroke-width="1"/>
<line x1="674.18" y1="497.40" x2="674.18" y2="501.10" stroke="#333333" stroke-width="1"/>
<line x1="448.10" y1="497.40" x2="448.10" y2="499.50" stroke="#333333" stroke-width="1"/>
<line x1="482.88" y1="497.40" x2="482.88" y2="499.50" stroke="#333333" stroke-width="1"/>
<line x1="517.66" y1="497.40" x2="517.66" y2="499.50" stroke="#333333" stroke-width="1"/>
<line x1="552.44" y1="497.40" x2="552.44" y2="499.50" stroke="#333333" stroke-width="1"/>
<line x1="587.22" y1="497.40" x2="587.22" y2="499.50" stroke="#333333" stroke-width="1"/>
<line x1="622.00" y1="497.40" x2="622.00" y2="499.50" stroke="#333333" stroke-width="1"/>
<line x1="656.78" y1="497.40" x2="656.78" y2="499.50" stroke="#333333" stroke-width="1"/>
<line x1="442.90" y1="497.40" x2="445.00" y2="497.40" stroke="#333333" stroke-width="1"/>
<line x1="442.90" y1="435.20" x2="445.00" y2="435.20" stroke="#333333" stroke-width="1"/>
<line x1="442.90" y1="373.60" x2="445.00" y2="373.60" stroke="#333333" stroke-width="1"/>
<line x1="442.90" y1="312.50" x2="445.00" y2="312.50" stroke="#333333" stroke-width="1"/>
<line x1="511.10" y1="325.45" x2="538.80" y2="325.45" stroke="#000000" stroke-width="1.1"/>
<line x1="511.10" y1="340.80" x2="538.80" y2="340.80" stroke="#ff1414" stroke-width="1.4"/>
</g>
<g id="labels" opacity="0.999">
<text x="83.20" y="220.40" font-size="11.5" text-anchor="middle">0</text>
<text x="122.40" y="220.40" font-size="11.5" text-anchor="middle">5000</text>
<text x="161.60" y="220.40" font-size="11.5" text-anchor="middle">10000</text>
<text x="200.80" y="220.40" font-size="11.5" text-anchor="middle">15000</text>
<text x="240.00" y="220.40" font-size="11.5" text-anchor="middle">20000</text>
<text x="279.20" y="220.40" font-size="11.5" text-anchor="middle">25000</text>
<text x="77.00" y="209.10" font-size="11.5" text-anchor="end">0</text>
<text x="77.00" y="164.85" font-size="11.5" text-anchor="end">10</text>
<text x="77.00" y="120.60" font-size="11.5" text-anchor="end">20</text>
<text x="77.00" y="76.35" font-size="11.5" text-anchor="end">30</text>
<text x="77.00" y="32.10" font-size="11.5" text-anchor="end">40</text>
<text x="124.40" y="160.40" font-size="11.0" text-anchor="start">Ag=100 nm</text>
<text x="124.40" y="174.40" font-size="11.0" text-anchor="start">Al=80 nm-Ag 20 nm</text>
<text transform="translate(58.90,117.30) rotate(-90)" font-size="11.6" text-anchor="middle">EQE (%)</text>
<text x="188.5" y="240.0" font-size="11.9" text-anchor="middle">L(cd/m<tspan font-size="7.3" dy="-4.4">2</tspan><tspan dy="4.4">)</tspan></text>
<text x="0.60" y="25.90" font-size="18.4" text-anchor="start">(a)</text>
<text x="496.30" y="235.00" font-size="12.1" text-anchor="middle">100</text>
<text x="566.90" y="235.00" font-size="12.1" text-anchor="middle">200</text>
<text x="637.40" y="235.00" font-size="12.1" text-anchor="middle">300</text>
<text x="433.20" y="223.40" font-size="12.4" text-anchor="end">0.0</text>
<text x="433.20" y="169.50" font-size="12.4" text-anchor="end">0.1</text>
<text x="433.20" y="115.60" font-size="12.4" text-anchor="end">0.2</text>
<text x="433.20" y="61.70" font-size="12.4" text-anchor="end">0.3</text>
<text x="488.10" y="50.50" font-size="12.4" text-anchor="start">Al(80 nm)-Ag(20 nm)</text>
<text x="488.10" y="65.40" font-size="12.4" text-anchor="start">Ag(100 nm)</text>
<text transform="translate(410.70,124.00) rotate(-90)" font-size="12.5" text-anchor="middle">Outcoupling efficiency</text>
<text x="556.20" y="255.90" font-size="12.5" text-anchor="middle">HTL thickness(nm)</text>
<text x="359.00" y="15.00" font-size="18.4" text-anchor="start">(b)</text>
<text x="102.30" y="508.80" font-size="11.6" text-anchor="middle">50</text>
<text x="135.53" y="508.80" font-size="11.6" text-anchor="middle">100</text>
<text x="168.76" y="508.80" font-size="11.6" text-anchor="middle">150</text>
<text x="201.99" y="508.80" font-size="11.6" text-anchor="middle">200</text>
<text x="235.22" y="508.80" font-size="11.6" text-anchor="middle">250</text>
<text x="268.45" y="508.80" font-size="11.6" text-anchor="middle">300</text>
<text x="301.68" y="508.80" font-size="11.6" text-anchor="middle">350</text>
<text x="76.00" y="497.00" font-size="11.6" text-anchor="end">0.00</text>
<text x="76.00" y="452.75" font-size="11.6" text-anchor="end">0.05</text>
<text x="76.00" y="408.50" font-size="11.6" text-anchor="end">0.10</text>
<text x="76.00" y="364.25" font-size="11.6" text-anchor="end">0.15</text>
<text x="76.00" y="320.00" font-size="11.6" text-anchor="end">0.20</text>
<text x="139.00" y="337.70" font-size="11.7" text-anchor="start">Al(80 nm)-Ag(20 nm)</text>
<text x="139.00" y="352.50" font-size="11.7" text-anchor="start">Ag(100 nm)</text>
<text transform="translate(48.90,404.20) rotate(-90)" font-size="11.85" text-anchor="middle">Abs+Ref loss</text>
<text x="192.10" y="527.60" font-size="11.7" text-anchor="middle">HTL thickness(nm)</text>
<text x="0.60" y="305.20" font-size="18.4" text-anchor="start" textLength="20.3" lengthAdjust="spacingAndGlyphs">(c)</text>
<text x="465.50" y="512.80" font-size="12.1" text-anchor="middle">50</text>
<text x="500.28" y="512.80" font-size="12.1" text-anchor="middle">100</text>
<text x="535.06" y="512.80" font-size="12.1" text-anchor="middle">150</text>
<text x="569.84" y="512.80" font-size="12.1" text-anchor="middle">200</text>
<text x="604.62" y="512.80" font-size="12.1" text-anchor="middle">250</text>
<text x="639.40" y="512.80" font-size="12.1" text-anchor="middle">300</text>
<text x="674.18" y="512.80" font-size="12.1" text-anchor="middle">350</text>
<text x="441.00" y="470.00" font-size="12.3" text-anchor="end">0.6</text>
<text x="441.00" y="408.30" font-size="12.3" text-anchor="end">0.8</text>
<text x="441.00" y="346.60" font-size="12.3" text-anchor="end">1.0</text>
<text x="541.80" y="330.15" font-size="12.2" text-anchor="start">Al(80 nm)-Ag(20 nm)</text>
<text x="541.80" y="345.15" font-size="12.2" text-anchor="start">Ag(100 nm)</text>
<text transform="translate(419.90,408.00) rotate(-90)" font-size="12.9" text-anchor="middle">SPP+WVG mode</text>
<text x="559.70" y="532.80" font-size="12.3" text-anchor="middle">HTL thickness(nm)</text>
<text x="362.00" y="288.60" font-size="18.4" text-anchor="start">(d)</text>
</g>
</svg>
</body>
</html>
